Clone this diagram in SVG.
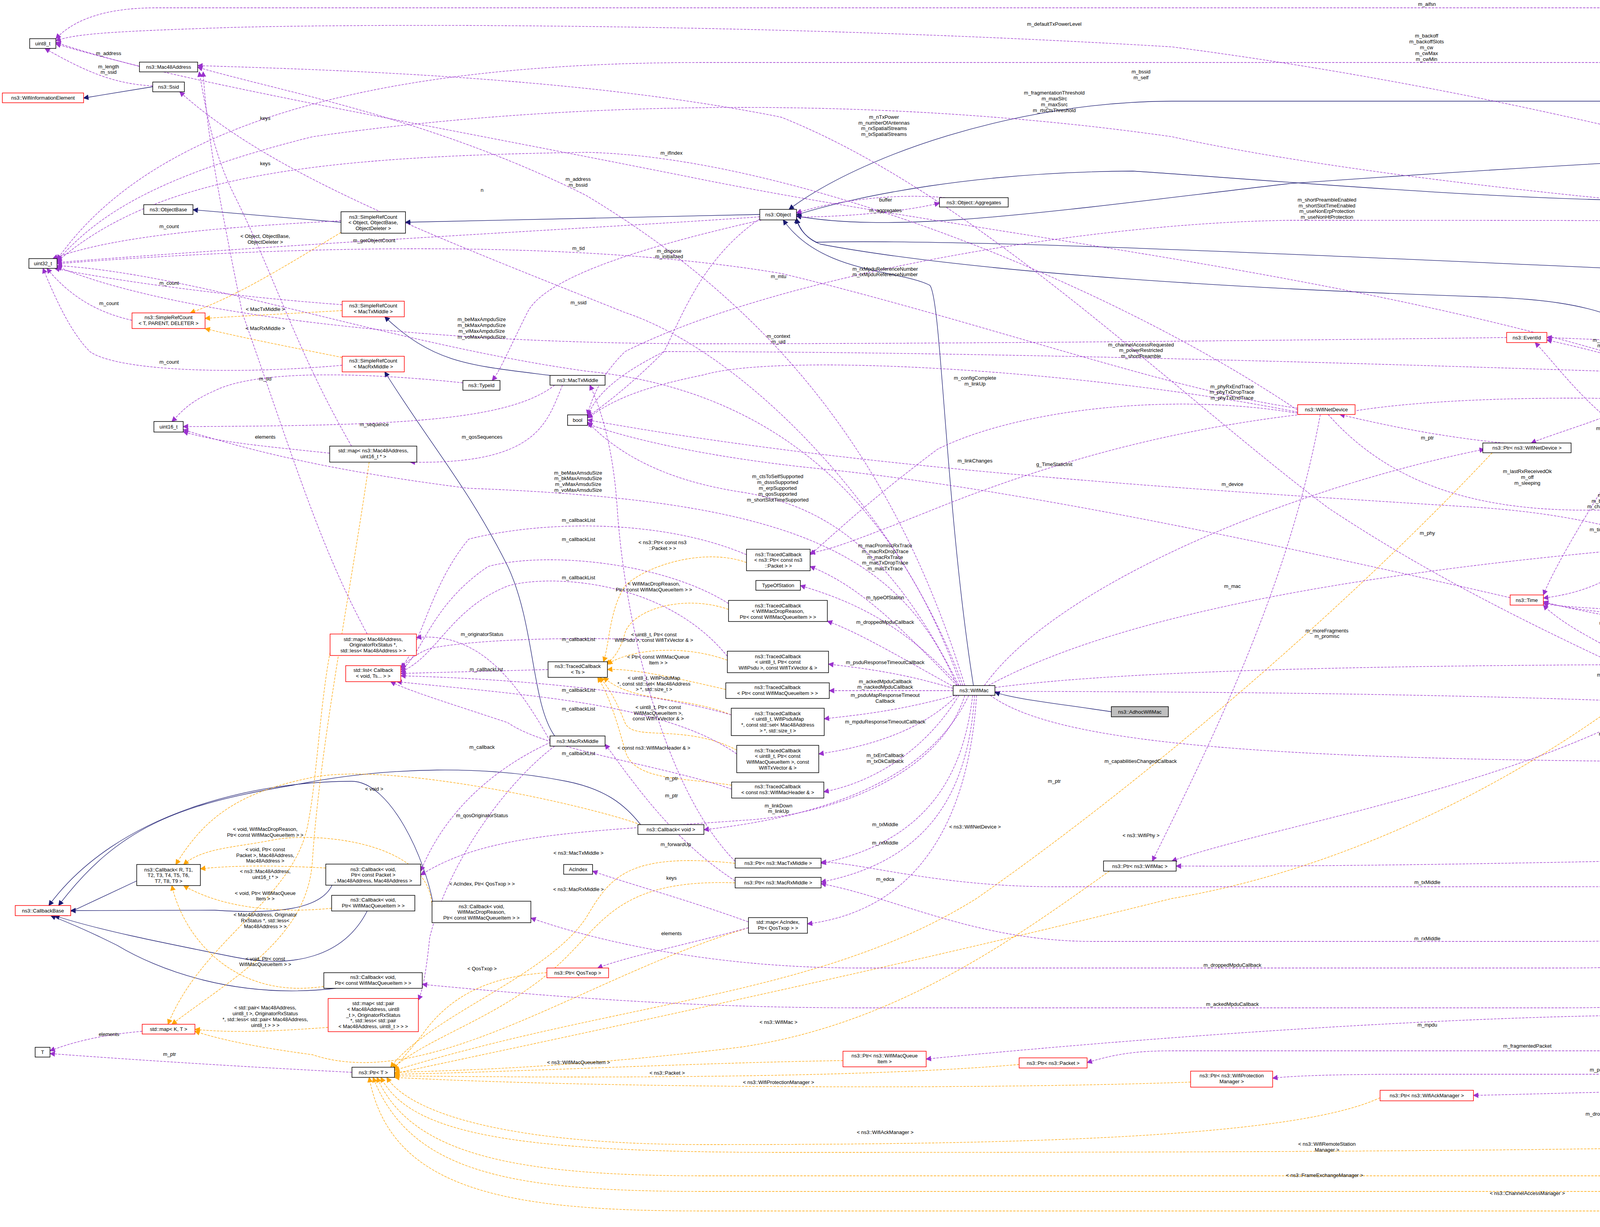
<svg xmlns="http://www.w3.org/2000/svg" width="6967" height="3141" viewBox="0 0 6967 3141">
<style>
.nd rect{fill:#fff;stroke:#000;stroke-width:1.5}
.nd.r rect{stroke:#f00}
.nd.g rect{fill:#bfbfbf}
text{font-family:"Liberation Sans",Arial,sans-serif;font-size:13px;fill:#000;text-anchor:middle}
.e path{fill:none}
.u{stroke:#9a32cd;stroke-width:1.3;stroke-dasharray:6,3;marker-end:url(#mu)}
.t{stroke:#ffa500;stroke-width:1.3;stroke-dasharray:6,3;marker-end:url(#mt)}
.i{stroke:#191970;stroke-width:1.3;marker-end:url(#mi)}
</style>
<defs>
<marker id="mu" viewBox="0 0 10 10" refX="9" refY="5" markerWidth="14" markerHeight="14" markerUnits="userSpaceOnUse" orient="auto"><path d="M0,0 L10,5 L0,10 z" fill="#9a32cd"/></marker>
<marker id="mt" viewBox="0 0 10 10" refX="9" refY="5" markerWidth="14" markerHeight="14" markerUnits="userSpaceOnUse" orient="auto"><path d="M0,0 L10,5 L0,10 z" fill="#ffa500"/></marker>
<marker id="mi" viewBox="0 0 10 10" refX="9" refY="5" markerWidth="14" markerHeight="14" markerUnits="userSpaceOnUse" orient="auto"><path d="M0,0 L10,5 L0,10 z" fill="#191970"/></marker>
</defs>
<rect width="6967" height="3141" fill="#fff"/>
<g id="edges" class="e">
<!-- inheritance -->
<path class="i" d="M391,222 L214,251"/>
<path class="i" d="M873,569 L494,537"/>
<path class="i" d="M1945,549 L1038,569"/>
<path class="i" d="M1408,961 C1200,935 1110,930 985,811"/>
<path class="i" d="M1420,1884 C1360,1800 1370,1600 1300,1450 C1200,1250 1110,1150 985,952"/>
<path class="i" d="M350,2255 L160,2344"/>
<path class="i" d="M850,2266 C820,2330 700,2340 550,2330 L181,2331"/>
<path class="i" d="M940,2332 C880,2450 750,2480 600,2450 C400,2410 250,2380 140,2344"/>
<path class="i" d="M860,2530 C600,2560 400,2480 300,2420 C220,2380 170,2360 130,2344"/>
<path class="i" d="M1110,2320 C1090,2200 1000,2000 900,2000 C650,2000 300,2080 125,2318"/>
<path class="i" d="M1640,2111 C1600,2060 1550,2020 1450,2000 C1250,1960 1000,1960 750,2010 C450,2060 300,2120 150,2318"/>
<path class="i" d="M2492,1755 C2420,1300 2410,760 2380,730 C2300,690 2100,700 2005,563"/>
<path class="i" d="M2845,1822 C2700,1800 2600,1790 2547,1772"/>
<path class="i" d="M6660,1844 C6640,1200 6620,259 6300,259 L3000,259 C2600,260 2200,400 2020,536"/>
<path class="i" d="M5800,1265 C5650,900 5450,600 5160,380 C4900,370 4000,420 3300,470 C2700,540 2300,600 2039,553"/>
<path class="i" d="M5040,551 C4900,510 4700,513 4200,513 C3800,510 3100,450 2900,438 C2500,440 2200,500 2039,550"/>
<path class="i" d="M5080,2166 C4950,1700 4790,1400 4800,1000 C4780,820 4600,700 4200,690 C3500,660 2500,610 2090,620 C2050,600 2040,570 2039,558"/>
<path class="i" d="M4300,942 C4200,820 4100,770 3800,760 C3200,740 2500,700 2100,625 C2060,610 2045,580 2039,560"/>
<!-- template -->
<path class="t" d="M873,595 C700,700 600,760 487,801"/>
<path class="t" d="M876,795 C700,805 600,810 525,815"/>
<path class="t" d="M876,915 C700,880 600,860 525,841"/>
<path class="t" d="M834,2222 C700,2215 600,2215 513,2224"/>
<path class="t" d="M849,2325 C700,2340 560,2320 470,2267"/>
<path class="t" d="M829,2525 C600,2560 470,2400 440,2267"/>
<path class="t" d="M1106,2320 C1100,2150 800,2130 700,2150 C600,2170 520,2170 470,2213"/>
<path class="t" d="M1640,2111 C1500,2060 1000,1950 800,1990 C600,2030 520,2100 450,2213"/>
<path class="t" d="M945,1183 C900,1500 820,1900 800,2200 C790,2400 600,2500 440,2622"/>
<path class="t" d="M845,1670 C820,1800 810,2000 790,2100 C760,2300 520,2400 430,2622"/>
<path class="t" d="M840,2630 C700,2640 600,2645 499,2635"/>
<path class="t" d="M1916,2375 C1500,2500 1100,2800 800,2700 C650,2680 560,2660 499,2640"/>
<path class="t" d="M1911,1440 C1800,1400 1650,1450 1600,1500 C1560,1560 1560,1650 1545,1694"/>
<path class="t" d="M1865,1560 C1750,1520 1620,1560 1600,1620 C1590,1660 1570,1690 1550,1700"/>
<path class="t" d="M1862,1690 C1750,1650 1620,1660 1555,1700"/>
<path class="t" d="M1858,1765 C1750,1740 1620,1710 1555,1714"/>
<path class="t" d="M1872,1830 C1750,1780 1620,1800 1545,1734"/>
<path class="t" d="M1886,1920 C1750,1850 1620,1900 1600,1850 C1580,1800 1560,1760 1535,1734"/>
<path class="t" d="M1873,2010 C1750,1990 1620,2000 1600,1920 C1580,1850 1560,1780 1530,1734"/>
<path class="t" d="M1882,2210 C1600,2180 1560,2250 1500,2350 C1400,2500 1100,2600 1000,2732"/>
<path class="t" d="M1882,2260 C1600,2250 1550,2350 1450,2450 C1300,2600 1100,2650 1005,2735"/>
<path class="t" d="M1400,2490 C1250,2500 1150,2550 1080,2650 C1040,2700 1020,2720 1008,2738"/>
<path class="t" d="M2840,2230 C2600,2400 2300,2620 1900,2680 C1500,2730 1200,2740 1010,2745"/>
<path class="t" d="M3820,1159 C3500,1500 3000,1950 2500,2300 C2100,2550 1600,2560 1010,2740"/>
<path class="t" d="M4680,1277 C4300,1800 3600,2200 3000,2300 C2400,2450 1800,2580 1010,2748"/>
<path class="t" d="M2158,2715 C1800,2720 1300,2745 1010,2750"/>
<path class="t" d="M2609,2725 C2200,2760 1500,2760 1010,2754"/>
<path class="t" d="M3048,2770 C2500,2790 1500,2785 1010,2758"/>
<path class="t" d="M3533,2810 C3300,2920 2500,2930 1800,2930 C1300,2930 1050,2850 990,2758"/>
<path class="t" d="M5480,1298 C5430,1800 5350,2600 5200,2900 C4800,2950 3000,2950 2000,2950 C1300,2950 1050,2900 975,2758"/>
<path class="t" d="M5460,2095 C5380,2600 5200,2980 4500,3010 L1800,3010 C1300,3010 1050,2950 965,2758"/>
<path class="t" d="M6250,1877 C6050,2400 5600,2900 5000,3050 L1800,3050 C1300,3050 1050,3000 955,2758"/>
<path class="t" d="M6870,2782 C6850,3000 6750,3100 6500,3100 L1800,3100 C1300,3100 1000,3050 945,2758"/>
<!-- usage -->
<path class="u" d="M357,170 C280,150 200,130 143,112"/>
<path class="u" d="M391,220 C300,215 230,190 115,124"/>
<path class="u" d="M873,565 C600,580 300,600 135,662"/>
<path class="u" d="M876,780 C600,760 300,720 140,687"/>
<path class="u" d="M338,820 C250,800 180,760 120,687"/>
<path class="u" d="M876,935 C600,960 300,950 230,900 C180,850 140,760 110,687"/>
<path class="u" d="M1185,980 C900,950 650,950 550,1000 C480,1030 460,1060 440,1079"/>
<path class="u" d="M1420,986 C1300,1080 1000,1090 469,1092"/>
<path class="u" d="M1440,986 C1400,1080 1380,1190 1050,1183"/>
<path class="u" d="M844,1160 C650,1140 550,1130 469,1105"/>
<path class="u" d="M900,1142 C760,900 700,700 600,500 C550,400 530,300 510,184"/>
<path class="u" d="M940,1623 C820,1400 760,1200 620,800 C560,500 530,350 520,184"/>
<path class="u" d="M1408,1897 C1300,1700 1200,1620 1066,1632"/>
<path class="u" d="M1420,1910 C1300,2000 1150,2200 1100,2400 C1090,2500 1080,2540 1071,2560"/>
<path class="u" d="M1410,1900 C1300,1950 1150,2050 1077,2230"/>
<path class="u" d="M1403,1714 L1026,1724"/>
<path class="u" d="M1911,1420 C1700,1330 1400,1330 1200,1380 C1100,1500 1080,1650 1026,1710"/>
<path class="u" d="M1865,1545 C1700,1440 1400,1410 1250,1450 C1100,1550 1080,1680 1026,1715"/>
<path class="u" d="M1862,1680 C1700,1480 1400,1470 1300,1500 C1150,1560 1120,1680 1026,1720"/>
<path class="u" d="M1872,1830 C1700,1780 1400,1740 1026,1730"/>
<path class="u" d="M1886,1930 C1700,1800 1350,1780 1016,1745"/>
<path class="u" d="M1873,2020 C1700,1960 1400,1920 1300,1850 C1150,1800 1050,1770 1000,1745"/>
<path class="u" d="M1645,1637 C1400,1630 1200,1640 1100,1660 C1050,1680 1040,1700 1026,1708"/>
<path class="u" d="M364,2640 C250,2650 180,2670 128,2690"/>
<path class="u" d="M901,2745 C600,2730 300,2710 128,2697"/>
<path class="u" d="M1916,2360 C1750,2300 1600,2260 1517,2230"/>
<path class="u" d="M1916,2375 C1750,2420 1600,2450 1530,2478"/>
<path class="u" d="M1882,2205 C1700,2020 1600,1600 1580,1300 C1570,1150 1540,1050 1510,986"/>
<path class="u" d="M1882,2255 C1720,2150 1620,2000 1549,1905"/>
<path class="u" d="M2450,1755 C2300,1600 2200,1500 2074,1450"/>
<path class="u" d="M2455,1755 C2300,1580 2150,1530 2049,1499"/>
<path class="u" d="M2445,1760 C2300,1680 2200,1620 2118,1590"/>
<path class="u" d="M2440,1762 C2300,1720 2200,1710 2121,1700"/>
<path class="u" d="M2440,1768 L2123,1768"/>
<path class="u" d="M2445,1780 C2300,1820 2200,1830 2110,1840"/>
<path class="u" d="M2450,1780 C2350,1880 2200,1915 2096,1930"/>
<path class="u" d="M2455,1780 C2350,1950 2200,2010 2109,2027"/>
<path class="u" d="M2480,1780 C2400,1950 2200,2080 1802,2124"/>
<path class="u" d="M2470,1780 C2400,2000 2100,2090 1900,2100 C1500,2130 1250,2130 1077,2240"/>
<path class="u" d="M2490,1780 C2470,1950 2400,2150 2102,2210"/>
<path class="u" d="M2495,1780 C2480,2000 2400,2200 2102,2258"/>
<path class="u" d="M2500,1780 C2480,2100 2350,2330 2067,2365"/>
<path class="u" d="M2455,1755 C2300,1450 2150,1300 1900,1260 C1700,1230 1580,1160 1504,1080"/>
<path class="u" d="M2450,1755 C2300,1400 2000,1280 1200,1250 C800,1200 600,1140 469,1100"/>
<path class="u" d="M2460,1755 C2300,1300 2000,1000 1500,950 C1000,880 500,700 146,680"/>
<path class="u" d="M2470,1755 C2300,1200 2000,800 1500,500 C1100,300 700,230 506,172"/>
<path class="u" d="M2465,1755 C2300,1300 1900,900 1600,800 C1100,600 700,450 460,235"/>
<path class="u" d="M2520,1755 C2700,1500 3300,1250 3800,1150"/>
<path class="u" d="M2530,1755 C3000,1500 4000,1400 5000,1350 C5300,1330 5380,1310 5400,1290"/>
<path class="u" d="M2547,1760 C3000,1700 4000,1700 5000,1700 C5600,1700 6000,1720 6190,1845"/>
<path class="u" d="M2547,1770 C3500,1770 4500,1790 5000,1850 C5300,1900 5370,1990 5380,2065"/>
<path class="u" d="M2535,1780 C2700,1900 3200,1950 4500,1950 C5500,1950 6500,2300 6800,2770"/>
<path class="u" d="M5001,2180 C4500,2200 3500,2220 3011,2217"/>
<path class="u" d="M5010,2180 C4800,2260 4500,2270 4000,2270 L2700,2270 C2400,2270 2200,2207 2102,2207"/>
<path class="u" d="M5020,2193 C4900,2300 4700,2410 4000,2410 L2800,2410 C2500,2410 2300,2300 2102,2262"/>
<path class="u" d="M5030,2193 C4900,2350 4700,2478 4000,2478 L2200,2478 C1800,2478 1500,2400 1359,2350"/>
<path class="u" d="M5040,2193 C4900,2450 4700,2580 4000,2580 L2200,2580 C1700,2580 1300,2540 1081,2520"/>
<path class="u" d="M5050,2193 C4900,2550 4700,2610 4400,2600 C4000,2590 3200,2630 2371,2711"/>
<path class="u" d="M5060,2193 C4950,2550 4700,2680 4400,2690 L3000,2690 C2900,2690 2850,2700 2783,2720"/>
<path class="u" d="M5070,2193 C5000,2600 4850,2750 4600,2750 L3600,2750 C3400,2750 3300,2755 3258,2760"/>
<path class="u" d="M5080,2193 C5050,2650 4900,2830 4700,2800 C4500,2780 4000,2800 3772,2804"/>
<path class="u" d="M5090,2166 C5000,1800 4850,1400 4710,1277"/>
<path class="u" d="M5100,2166 C5000,1700 4900,1300 4700,1220 C4550,1180 4450,1185 4372,1185"/>
<path class="u" d="M5050,2166 C4800,1950 4500,1850 4300,1750 C4100,1650 4000,1600 3951,1549"/>
<path class="u" d="M5140,2193 C5200,2500 5350,2787 5600,2787 L6700,2787 C6760,2787 6780,2782 6800,2775"/>
<path class="u" d="M5110,2166 C4950,1800 4700,1700 4569,1689"/>
<path class="u" d="M5150,2166 C5300,1800 5600,1950 5900,1950 C6050,1900 6150,1870 6200,1877"/>
<path class="u" d="M5020,2166 C4700,1900 4000,1700 3400,1300 C3000,1000 2500,500 2000,300 C1500,200 900,180 506,168"/>
<path class="u" d="M5070,2166 C4900,1700 4500,1350 3800,1300 C3000,1250 2200,1200 1504,1075"/>
<path class="u" d="M5823,1280 C5700,1260 5650,1240 5588,1225"/>
<path class="u" d="M5990,1291 C6050,1310 6150,1310 6224,1288"/>
<path class="u" d="M6224,1278 L6032,1278"/>
<path class="u" d="M5850,1265 C5700,1170 5400,1160 5200,1180 C5000,1250 4850,1264 4779,1264"/>
<path class="u" d="M5900,1291 C5800,1600 5600,1900 5490,2055"/>
<path class="u" d="M5840,1291 C5600,1400 5000,1600 4500,1600 C4200,1580 4000,1560 3951,1540"/>
<path class="u" d="M5880,1291 C5600,1500 5200,1000 4900,950 C4500,880 4100,870 3960,864"/>
<path class="u" d="M6300,1837 C6200,1600 6050,1400 5930,1291"/>
<path class="u" d="M6620,1857 L6396,1857"/>
<path class="u" d="M6880,2756 C6850,2400 6780,2000 6690,1870"/>
<path class="u" d="M6670,1844 C6620,1400 6500,600 6360,200 C6300,60 6200,20 6000,20 L400,20 C250,20 180,60 143,99"/>
<path class="u" d="M6680,1844 C6650,1300 6600,600 6450,420 C6350,300 6250,160 6000,160 L1800,160 C1000,160 400,300 146,665"/>
<path class="u" d="M6640,1844 C6500,1600 6400,1600 6300,1567 L4500,1567 C4200,1567 4000,1555 3951,1545"/>
<path class="u" d="M5470,1259 C5420,1000 5300,780 5100,577"/>
<path class="u" d="M5050,577 C4950,700 4800,1100 4760,1251"/>
<path class="u" d="M5060,577 C4950,900 4700,1400 4400,1700 C4000,2000 3300,2100 3000,2204"/>
<path class="u" d="M5000,560 C4800,500 4000,250 3000,120 C2000,60 1000,60 600,70 C300,80 200,85 143,104"/>
<path class="u" d="M4991,565 C4500,560 3500,460 3000,350 C2300,250 1500,250 800,350 C400,450 250,550 146,668"/>
<path class="u" d="M4991,570 C4700,565 4000,564 3300,564 C2800,570 2000,700 1600,900 C1550,950 1520,1000 1504,1062"/>
<path class="u" d="M4260,950 C4100,900 4000,880 3960,870"/>
<path class="u" d="M4300,968 C4200,1050 4000,1100 3920,1134"/>
<path class="u" d="M4280,968 C4200,1100 4000,1400 3951,1523"/>
<path class="u" d="M4254,955 C3500,930 2500,900 1700,900 C1600,950 1530,1000 1504,1065"/>
<path class="u" d="M4254,945 C3500,700 2500,600 1800,460 C1000,300 400,200 143,108"/>
<path class="u" d="M4690,1251 C4600,1100 4450,1000 4357,962"/>
<path class="u" d="M3850,1134 C3700,1120 3550,1090 3430,1061"/>
<path class="u" d="M3400,1061 C3700,1400 4200,1300 4597,1264"/>
<path class="u" d="M3380,1061 C3300,1500 3100,1900 2950,2204"/>
<path class="u" d="M3420,1061 C3700,1000 4500,1000 5000,1100 C5300,1150 5400,1200 5420,1259"/>
<path class="u" d="M3322,1050 C2800,700 2000,400 1500,390 C800,400 400,450 146,670"/>
<path class="u" d="M3322,1045 C3000,1000 2500,820 2000,700 C1400,600 600,640 146,675"/>
<path class="u" d="M3322,1055 C2800,950 2000,900 1800,960 C1600,1000 1550,1040 1504,1070"/>
<path class="u" d="M3340,1061 C3000,1000 2600,1050 2400,1150 C2200,1300 2100,1400 2074,1420"/>
<path class="u" d="M3330,1061 C3000,1100 2700,1180 2400,1300 C2200,1380 2120,1410 2074,1415"/>
<path class="u" d="M4280,1172 C4100,1100 4000,950 3930,877"/>
<path class="u" d="M4300,1198 C4260,1350 4200,1500 3951,1531"/>
<path class="u" d="M4420,1663 C4300,1600 4050,1570 3951,1540"/>
<path class="u" d="M3857,864 C3400,870 2500,880 1800,880 C1000,880 400,790 146,682"/>
<path class="u" d="M2039,556 C2150,555 2300,545 2405,520"/>
<path class="u" d="M2420,506 C2300,495 2150,510 2039,545"/>
<path class="u" d="M1945,555 C1600,580 800,620 146,672"/>
<path class="u" d="M1950,563 C1700,620 1400,700 1350,800 C1300,900 1280,950 1260,974"/>
<path class="u" d="M1945,560 C1800,660 1750,800 1700,900 C1600,1000 1540,1040 1504,1068"/>
<path class="u" d="M3866,1530 C3300,1400 2600,1250 2100,1200 C1800,1170 1600,1120 1504,1085"/>
</g>
<g id="labels">
<text x="278" y="141">m_address</text>
<text x="278" y="175">m_length</text><text x="278" y="189">m_ssid</text>
<text x="679" y="307">keys</text>
<text x="679" y="423">keys</text>
<text x="1719" y="396">m_ifIndex</text>
<text x="1480" y="463">m_address</text><text x="1480" y="478">m_bssid</text>
<text x="1234" y="491">n</text>
<text x="433" y="584">m_count</text>
<text x="679" y="609">&lt; Object, ObjectBase,</text><text x="679" y="624">ObjectDeleter &gt;</text>
<text x="958" y="620">m_getObjectCount</text>
<text x="1481" y="640">m_tid</text>
<text x="1713" y="647">m_dispose</text><text x="1713" y="661">m_initialized</text>
<text x="433" y="729">m_count</text>
<text x="279" y="781">m_count</text>
<text x="679" y="796">&lt; MacTxMiddle &gt;</text>
<text x="679" y="845">&lt; MacRxMiddle &gt;</text>
<text x="1481" y="779">m_ssid</text>
<text x="1233" y="822">m_beMaxAmpduSize</text><text x="1233" y="837">m_bkMaxAmpduSize</text><text x="1233" y="852">m_viMaxAmpduSize</text><text x="1233" y="867">m_voMaxAmpduSize</text>
<text x="433" y="931">m_count</text>
<text x="679" y="974">m_tid</text>
<text x="958" y="1091">m_sequence</text>
<text x="679" y="1123">elements</text>
<text x="1234" y="1123">m_qosSequences</text>
<text x="1480" y="1215">m_beMaxAmsduSize</text><text x="1480" y="1229">m_bkMaxAmsduSize</text><text x="1480" y="1244">m_viMaxAmsduSize</text><text x="1480" y="1259">m_voMaxAmsduSize</text>
<text x="1481" y="1336">m_callbackList</text>
<text x="1481" y="1385">m_callbackList</text>
<text x="1696" y="1393">&lt; ns3::Ptr&lt; const ns3</text><text x="1696" y="1408">::Packet &gt; &gt;</text>
<text x="1481" y="1483">m_callbackList</text>
<text x="1674" y="1499">&lt; WifiMacDropReason,</text><text x="1674" y="1514">Ptr&lt; const WifiMacQueueItem &gt; &gt;</text>
<text x="1234" y="1628">m_originatorStatus</text>
<text x="1481" y="1641">m_callbackList</text>
<text x="1674" y="1629">&lt; uint8_t, Ptr&lt; const</text><text x="1674" y="1643">WifiPsdu &gt;, const WifiTxVector &amp; &gt;</text>
<text x="1685" y="1686">&lt; Ptr&lt; const WifiMacQueue</text><text x="1685" y="1701">Item &gt; &gt;</text>
<text x="1245" y="1718">m_callbackList</text>
<text x="1674" y="1740">&lt; uint8_t, WifiPsduMap</text><text x="1674" y="1755">*, const std::set&lt; Mac48Address</text><text x="1674" y="1769">&gt; *, std::size_t &gt;</text>
<text x="1481" y="1771">m_callbackList</text>
<text x="1481" y="1819">m_callbackList</text>
<text x="1685" y="1815">&lt; uint8_t, Ptr&lt; const</text><text x="1685" y="1830">WifiMacQueueItem &gt;,</text><text x="1685" y="1844">const WifiTxVector &amp; &gt;</text>
<text x="1234" y="1917">m_callback</text>
<text x="1481" y="1933">m_callbackList</text>
<text x="1674" y="1919">&lt; const ns3::WifiMacHeader &amp; &gt;</text>
<text x="1719" y="1997">m_ptr</text>
<text x="1719" y="2041">m_ptr</text>
<text x="958" y="2024">&lt; void &gt;</text>
<text x="1234" y="2092">m_qosOriginatorStatus</text>
<text x="679" y="2127">&lt; void, WifiMacDropReason,</text><text x="679" y="2142">Ptr&lt; const WifiMacQueueItem &gt; &gt;</text>
<text x="679" y="2179">&lt; void, Ptr&lt; const</text><text x="679" y="2194">Packet &gt;, Mac48Address,</text><text x="679" y="2208">Mac48Address &gt;</text>
<text x="679" y="2235">&lt; ns3::Mac48Address,</text><text x="679" y="2250">uint16_t * &gt;</text>
<text x="679" y="2291">&lt; void, Ptr&lt; WifiMacQueue</text><text x="679" y="2305">Item &gt; &gt;</text>
<text x="679" y="2346">&lt; Mac48Address, Originator</text><text x="679" y="2361">RxStatus *, std::less&lt;</text><text x="679" y="2376">Mac48Address &gt; &gt;</text>
<text x="679" y="2459">&lt; void, Ptr&lt; const</text><text x="679" y="2473">WifiMacQueueItem &gt; &gt;</text>
<text x="679" y="2584">&lt; std::pair&lt; Mac48Address,</text><text x="679" y="2599">uint8_t &gt;, OriginatorRxStatus</text><text x="679" y="2614">*, std::less&lt; std::pair&lt; Mac48Address,</text><text x="679" y="2629">uint8_t &gt; &gt; &gt;</text>
<text x="279" y="2652">elements</text>
<text x="434" y="2703">m_ptr</text>
<text x="1234" y="2267">&lt; AcIndex, Ptr&lt; QosTxop &gt; &gt;</text>
<text x="1481" y="2188">&lt; ns3::MacTxMiddle &gt;</text>
<text x="1481" y="2281">&lt; ns3::MacRxMiddle &gt;</text>
<text x="1719" y="2252">keys</text>
<text x="1719" y="2394">elements</text>
<text x="1234" y="2484">&lt; QosTxop &gt;</text>
<text x="1730" y="2166">m_forwardUp</text>
<text x="1481" y="2724">&lt; ns3::WifiMacQueueItem &gt;</text>
<text x="1708" y="2751">&lt; ns3::Packet &gt;</text>
<text x="2699" y="66">m_defaultTxPowerLevel</text>
<text x="2921" y="188">m_bssid</text><text x="2921" y="203">m_self</text>
<text x="2699" y="242">m_fragmentationThreshold</text><text x="2699" y="257">m_maxSlrc</text><text x="2699" y="272">m_maxSsrc</text><text x="2699" y="287">m_rtsCtsThreshold</text>
<text x="2263" y="304">m_nTxPower</text><text x="2263" y="319">m_numberOfAntennas</text><text x="2263" y="333">m_rxSpatialStreams</text><text x="2263" y="348">m_txSpatialStreams</text>
<text x="2267" y="516">buffer</text>
<text x="2267" y="543">m_aggregates</text>
<text x="3397" y="516">m_shortPreambleEnabled</text><text x="3397" y="531">m_shortSlotTimeEnabled</text><text x="3397" y="545">m_useNonErpProtection</text><text x="3397" y="560">m_useNonHtProtection</text>
<text x="2266" y="693">m_rxMpduReferenceNumber</text><text x="2266" y="707">m_txMpduReferenceNumber</text>
<text x="1993" y="712">m_mtu</text>
<text x="1993" y="865">m_context</text><text x="1993" y="879">m_uid</text>
<text x="2921" y="887">m_channelAccessRequested</text><text x="2921" y="901">m_powerRestricted</text><text x="2921" y="916">m_shortPreamble</text>
<text x="2496" y="972">m_configComplete</text><text x="2496" y="987">m_linkUp</text>
<text x="3154" y="994">m_phyRxEndTrace</text><text x="3154" y="1008">m_phyTxDropTrace</text><text x="3154" y="1023">m_phyTxEndTrace</text>
<text x="2496" y="1184">m_linkChanges</text>
<text x="2699" y="1193">g_TimeStaticInit</text>
<text x="1991" y="1224">m_ctsToSelfSupported</text><text x="1991" y="1239">m_dsssSupported</text><text x="1991" y="1254">m_erpSupported</text><text x="1991" y="1269">m_qosSupported</text><text x="1991" y="1284">m_shortSlotTimeSupported</text>
<text x="3155" y="1244">m_device</text>
<text x="2266" y="1401">m_macPromiscRxTrace</text><text x="2266" y="1416">m_macRxDropTrace</text><text x="2266" y="1431">m_macRxTrace</text><text x="2266" y="1445">m_macTxDropTrace</text><text x="2266" y="1460">m_macTxTrace</text>
<text x="3155" y="1505">m_mac</text>
<text x="2266" y="1534">m_typeOfStation</text>
<text x="2266" y="1597">m_droppedMpduCallback</text>
<text x="3397" y="1619">m_moreFragments</text><text x="3397" y="1633">m_promisc</text>
<text x="2266" y="1700">m_psduResponseTimeoutCallback</text>
<text x="2266" y="1749">m_ackedMpduCallback</text><text x="2266" y="1763">m_nackedMpduCallback</text>
<text x="2266" y="1784">m_psduMapResponseTimeout</text><text x="2266" y="1799">Callback</text>
<text x="2266" y="1852">m_mpduResponseTimeoutCallback</text>
<text x="2266" y="1938">m_txErrCallback</text><text x="2266" y="1953">m_txOkCallback</text>
<text x="2920" y="1953">m_capabilitiesChangedCallback</text>
<text x="2699" y="2004">m_ptr</text>
<text x="1993" y="2067">m_linkDown</text><text x="1993" y="2081">m_linkUp</text>
<text x="2266" y="2115">m_txMiddle</text>
<text x="2496" y="2121">&lt; ns3::WifiNetDevice &gt;</text>
<text x="2266" y="2162">m_rxMiddle</text>
<text x="2921" y="2143">&lt; ns3::WifiPhy &gt;</text>
<text x="2266" y="2255">m_edca</text>
<text x="3155" y="2475">m_droppedMpduCallback</text>
<text x="3155" y="2575">m_ackedMpduCallback</text>
<text x="1993" y="2621">&lt; ns3::WifiMac &gt;</text>
<text x="1993" y="2775">&lt; ns3::WifiProtectionManager &gt;</text>
<text x="2266" y="2903">&lt; ns3::WifiAckManager &gt;</text>
<text x="3397" y="2933">&lt; ns3::WifiRemoteStation</text><text x="3397" y="2948">Manager &gt;</text>
<text x="3391" y="3013">&lt; ns3::FrameExchangeManager &gt;</text>
<text x="3653" y="15">m_aifsn</text>
<text x="3652" y="96">m_backoff</text><text x="3652" y="111">m_backoffSlots</text><text x="3652" y="126">m_cw</text><text x="3652" y="141">m_cwMax</text><text x="3652" y="156">m_cwMin</text>
<text x="4886" y="667">m_wifiPhy</text>
<text x="4133" y="875">m_endPhyRxEvent</text><text x="4133" y="889">m_endTxEvent</text>
<text x="4485" y="881">m_navResetEvent</text>
<text x="4887" y="883">m_accessTimeout</text>
<text x="4485" y="973">m_ptr</text>
<text x="4133" y="1001">m_device</text>
<text x="4485" y="1047">m_stationManager</text>
<text x="3654" y="1125">m_ptr</text>
<text x="4133" y="1101">m_timeoutEvent</text>
<text x="4133" y="1191">m_phy</text>
<text x="4690" y="1185">m_txTimer</text>
<text x="3910" y="1211">m_lastRxReceivedOk</text><text x="3910" y="1226">m_off</text><text x="3910" y="1241">m_sleeping</text>
<text x="4131" y="1272">m_ackTxTime</text><text x="4131" y="1287">m_blockAckTxTime</text><text x="4131" y="1301">m_channelSwitchDelay</text><text x="4131" y="1316">m_pifs</text><text x="4131" y="1331">m_sifs</text><text x="4131" y="1345">m_slot</text><text x="4131" y="1360">m_timeLastPreamble</text><text x="4131" y="1375">Detected</text>
<text x="3654" y="1369">m_phy</text>
<text x="4885" y="1366">m_eifsNoDifs</text><text x="4885" y="1381">m_lastAckTimeoutEnd</text><text x="4885" y="1396">m_lastBusyDuration</text><text x="4885" y="1410">m_lastBusyStart</text><text x="4885" y="1425">m_lastCtsTimeoutEnd</text><text x="4885" y="1440">m_lastNavDuration</text><text x="4885" y="1454">m_lastNavStart</text><text x="4885" y="1469">m_lastRxDuration</text><text x="4885" y="1484">m_lastRxStart</text><text x="4885" y="1498">m_lastSwitchingDuration</text><text x="4885" y="1513">...</text>
<text x="4133" y="1487">m_end</text>
<text x="4133" y="1599">m_txDuration</text>
<text x="4142" y="1732">m_stationManager</text>
<text x="4690" y="1779">m_txParams</text>
<text x="4133" y="1807">m_wifiMac</text>
<text x="4487" y="1813">m_channelAccessManager</text>
<text x="4485" y="1856">m_navEnd</text>
<text x="4887" y="1868">m_txop</text>
<text x="4133" y="1883">m_feManager</text>
<text x="4487" y="2021">m_txMiddle</text>
<text x="4887" y="2041">m_phy</text>
<text x="4133" y="2200">m_mac</text>
<text x="3654" y="2263">m_txMiddle</text>
<text x="3654" y="2407">m_rxMiddle</text>
<text x="4887" y="2595">m_mac</text>
<text x="3654" y="2628">m_mpdu</text>
<text x="3910" y="2682">m_fragmentedPacket</text>
<text x="4133" y="2743">m_protectionManager</text>
<text x="4307" y="2795">m_ackManager</text>
<text x="4133" y="2856">m_droppedMpduCallback</text>
<text x="3910" y="3059">&lt; ns3::ChannelAccessManager &gt;</text>
<text x="4307" y="3107">&lt; ns3::Txop &gt;</text>
<text x="5303" y="791">m_ptr</text>
<text x="5303" y="1189">m_phy</text>
<text x="5712" y="1236">m_txops</text>
<text x="6108" y="1275">m_cam</text>
<text x="6108" y="1296">m_phyListener</text>
<text x="6108" y="1496">m_ptr</text>
<text x="5712" y="1545">m_feManager</text>
<text x="5303" y="1599">m_backoffStart</text><text x="5303" y="1613">m_txopLimit</text>
<text x="6510" y="1853">m_channelAccessManager</text>
<text x="5712" y="2043">m_channelAccessManager</text>
<text x="5303" y="2101">m_ptr</text>
<text x="6754" y="2148">m_ptr</text>
<text x="6108" y="2791">m_dcf</text>
</g>
<g id="n_uint8" class="nd"><rect x="76" y="99" width="67" height="25"/><text x="109.5" y="116">uint8_t</text></g>
<g id="n_mac48" class="nd"><rect x="357" y="159" width="149" height="25"/><text x="431.5" y="176">ns3::Mac48Address</text></g>
<g id="n_ssid" class="nd"><rect x="391" y="210" width="81" height="25"/><text x="431.5" y="227">ns3::Ssid</text></g>
<g id="n_wie" class="nd r"><rect x="6" y="238" width="208" height="25"/><text x="110" y="255">ns3::WifiInformationElement</text></g>
<g id="n_objbase" class="nd"><rect x="368" y="524" width="126" height="25"/><text x="431" y="541">ns3::ObjectBase</text></g>
<g id="n_srcobj" class="nd"><rect x="873" y="542" width="165" height="55"/><text x="955.5" y="560">ns3::SimpleRefCount</text><text x="955.5" y="574">&lt; Object, ObjectBase,</text><text x="955.5" y="589">ObjectDeleter &gt;</text></g>
<g id="n_uint32" class="nd"><rect x="74" y="662" width="72" height="25"/><text x="110" y="679">uint32_t</text></g>
<g id="n_srcT" class="nd r"><rect x="338" y="801" width="187" height="40"/><text x="431.5" y="817">ns3::SimpleRefCount</text><text x="431.5" y="832">&lt; T, PARENT, DELETER &gt;</text></g>
<g id="n_srcTx" class="nd r"><rect x="876" y="771" width="159" height="40"/><text x="955.5" y="787">ns3::SimpleRefCount</text><text x="955.5" y="802">&lt; MacTxMiddle &gt;</text></g>
<g id="n_srcRx" class="nd r"><rect x="876" y="912" width="159" height="40"/><text x="955.5" y="928">ns3::SimpleRefCount</text><text x="955.5" y="943">&lt; MacRxMiddle &gt;</text></g>
<g id="n_typeid" class="nd"><rect x="1185" y="974" width="95" height="25"/><text x="1232.5" y="991">ns3::TypeId</text></g>
<g id="n_mactx" class="nd"><rect x="1408" y="961" width="141" height="25"/><text x="1478.5" y="978">ns3::MacTxMiddle</text></g>
<g id="n_uint16" class="nd"><rect x="394" y="1079" width="75" height="27"/><text x="431.5" y="1097">uint16_t</text></g>
<g id="n_bool" class="nd"><rect x="1453" y="1062" width="51" height="27"/><text x="1478.5" y="1080">bool</text></g>
<g id="n_mapseq" class="nd"><rect x="844" y="1142" width="223" height="41"/><text x="955.5" y="1158">std::map&lt; ns3::Mac48Address,</text><text x="955.5" y="1173">uint16_t * &gt;</text></g>
<g id="n_maporig" class="nd r"><rect x="845" y="1623" width="221" height="55"/><text x="955.5" y="1641">std::map&lt; Mac48Address,</text><text x="955.5" y="1655">OriginatorRxStatus *,</text><text x="955.5" y="1670">std::less&lt; Mac48Address &gt; &gt;</text></g>
<g id="n_listcb" class="nd r"><rect x="885" y="1704" width="141" height="41"/><text x="955.5" y="1720">std::list&lt; Callback</text><text x="955.5" y="1735">&lt; void, Ts... &gt; &gt;</text></g>
<g id="n_tcts" class="nd"><rect x="1403" y="1694" width="152" height="40"/><text x="1479" y="1710">ns3::TracedCallback</text><text x="1479" y="1725">&lt; Ts &gt;</text></g>
<g id="n_macrx" class="nd"><rect x="1408" y="1884" width="141" height="26"/><text x="1478.5" y="1902">ns3::MacRxMiddle</text></g>
<g id="n_cbbase" class="nd r"><rect x="39" y="2318" width="142" height="26"/><text x="110" y="2336">ns3::CallbackBase</text></g>
<g id="n_cbR" class="nd"><rect x="350" y="2213" width="163" height="54"/><text x="431.5" y="2231">ns3::Callback&lt; R, T1,</text><text x="431.5" y="2245">T2, T3, T4, T5, T6,</text><text x="431.5" y="2260">T7, T8, T9 &gt;</text></g>
<g id="n_cbpkt" class="nd"><rect x="834" y="2212" width="243" height="54"/><text x="955.5" y="2230">ns3::Callback&lt; void,</text><text x="955.5" y="2244">Ptr&lt; const Packet &gt;</text><text x="955.5" y="2259">, Mac48Address, Mac48Address &gt;</text></g>
<g id="n_cbitem" class="nd"><rect x="849" y="2292" width="213" height="40"/><text x="955.5" y="2308">ns3::Callback&lt; void,</text><text x="955.5" y="2323">Ptr&lt; WifiMacQueueItem &gt; &gt;</text></g>
<g id="n_cbdrop" class="nd"><rect x="1106" y="2307" width="253" height="55"/><text x="1232.5" y="2325">ns3::Callback&lt; void,</text><text x="1232.5" y="2339">WifiMacDropReason,</text><text x="1232.5" y="2354">Ptr&lt; const WifiMacQueueItem &gt; &gt;</text></g>
<g id="n_cbcitem" class="nd"><rect x="829" y="2490" width="252" height="40"/><text x="955" y="2506">ns3::Callback&lt; void,</text><text x="955" y="2521">Ptr&lt; const WifiMacQueueItem &gt; &gt;</text></g>
<g id="n_mappair" class="nd r"><rect x="840" y="2556" width="231" height="85"/><text x="955.5" y="2573">std::map&lt; std::pair</text><text x="955.5" y="2588">&lt; Mac48Address, uint8</text><text x="955.5" y="2603">_t &gt;, OriginatorRxStatus</text><text x="955.5" y="2617">*, std::less&lt; std::pair</text><text x="955.5" y="2632">&lt; Mac48Address, uint8_t &gt; &gt; &gt;</text></g>
<g id="n_mapkt" class="nd r"><rect x="364" y="2622" width="135" height="25"/><text x="431.5" y="2639">std::map&lt; K, T &gt;</text></g>
<g id="n_T" class="nd"><rect x="90" y="2681" width="38" height="25"/><text x="109" y="2698">T</text></g>
<g id="n_ptrT" class="nd"><rect x="901" y="2732" width="109" height="26"/><text x="955.5" y="2750">ns3::Ptr&lt; T &gt;</text></g>
<g id="n_acindex" class="nd"><rect x="1443" y="2213" width="74" height="25"/><text x="1480" y="2230">AcIndex</text></g>
<g id="n_ptrqos" class="nd r"><rect x="1400" y="2478" width="158" height="25"/><text x="1479" y="2495">ns3::Ptr&lt; QosTxop &gt;</text></g>
<g id="n_cbvoid" class="nd"><rect x="1633" y="2111" width="169" height="25"/><text x="1717.5" y="2128">ns3::Callback&lt; void &gt;</text></g>
<g id="n_object" class="nd"><rect x="1945" y="536" width="94" height="27"/><text x="1992" y="554">ns3::Object</text></g>
<g id="n_aggr" class="nd"><rect x="2405" y="506" width="176" height="24"/><text x="2493" y="523">ns3::Object::Aggregates</text></g>
<g id="n_netdev" class="nd r"><rect x="3322" y="1036" width="147" height="25"/><text x="3395.5" y="1053">ns3::WifiNetDevice</text></g>
<g id="n_tcpkt" class="nd"><rect x="1911" y="1406" width="163" height="55"/><text x="1992.5" y="1424">ns3::TracedCallback</text><text x="1992.5" y="1438">&lt; ns3::Ptr&lt; const ns3</text><text x="1992.5" y="1453">::Packet &gt; &gt;</text></g>
<g id="n_typesta" class="nd"><rect x="1935" y="1486" width="114" height="25"/><text x="1992" y="1503">TypeOfStation</text></g>
<g id="n_tcdrop" class="nd"><rect x="1865" y="1537" width="253" height="54"/><text x="1991.5" y="1555">ns3::TracedCallback</text><text x="1991.5" y="1569">&lt; WifiMacDropReason,</text><text x="1991.5" y="1584">Ptr&lt; const WifiMacQueueItem &gt; &gt;</text></g>
<g id="n_tcpsdu" class="nd"><rect x="1862" y="1667" width="259" height="55"/><text x="1991.5" y="1685">ns3::TracedCallback</text><text x="1991.5" y="1699">&lt; uint8_t, Ptr&lt; const</text><text x="1991.5" y="1714">WifiPsdu &gt;, const WifiTxVector &amp; &gt;</text></g>
<g id="n_tccitem" class="nd"><rect x="1858" y="1748" width="265" height="40"/><text x="1990.5" y="1764">ns3::TracedCallback</text><text x="1990.5" y="1779">&lt; Ptr&lt; const WifiMacQueueItem &gt; &gt;</text></g>
<g id="n_tcpsdumap" class="nd"><rect x="1872" y="1813" width="238" height="70"/><text x="1991" y="1831">ns3::TracedCallback</text><text x="1991" y="1845">&lt; uint8_t, WifiPsduMap</text><text x="1991" y="1860">*, const std::set&lt; Mac48Address</text><text x="1991" y="1875">&gt; *, std::size_t &gt;</text></g>
<g id="n_tcitemtx" class="nd"><rect x="1886" y="1908" width="210" height="70"/><text x="1991" y="1926">ns3::TracedCallback</text><text x="1991" y="1940">&lt; uint8_t, Ptr&lt; const</text><text x="1991" y="1955">WifiMacQueueItem &gt;, const</text><text x="1991" y="1970">WifiTxVector &amp; &gt;</text></g>
<g id="n_tchdr" class="nd"><rect x="1873" y="2002" width="236" height="41"/><text x="1991" y="2018">ns3::TracedCallback</text><text x="1991" y="2033">&lt; const ns3::WifiMacHeader &amp; &gt;</text></g>
<g id="n_wifimac" class="nd"><rect x="2440" y="1755" width="107" height="25"/><text x="2493.5" y="1772">ns3::WifiMac</text></g>
<g id="n_adhoc" class="nd g"><rect x="2845" y="1809" width="146" height="26"/><text x="2918" y="1827">ns3::AdhocWifiMac</text></g>
<g id="n_ptrtx" class="nd"><rect x="1882" y="2197" width="220" height="25"/><text x="1992" y="2214">ns3::Ptr&lt; ns3::MacTxMiddle &gt;</text></g>
<g id="n_ptrrx" class="nd"><rect x="1882" y="2246" width="220" height="27"/><text x="1992" y="2264">ns3::Ptr&lt; ns3::MacRxMiddle &gt;</text></g>
<g id="n_mapac" class="nd"><rect x="1916" y="2349" width="151" height="40"/><text x="1991.5" y="2365">std::map&lt; AcIndex,</text><text x="1991.5" y="2380">Ptr&lt; QosTxop &gt; &gt;</text></g>
<g id="n_ptrmac" class="nd"><rect x="2825" y="2204" width="186" height="26"/><text x="2918" y="2222">ns3::Ptr&lt; ns3::WifiMac &gt;</text></g>
<g id="n_ptritem" class="nd r"><rect x="2158" y="2691" width="213" height="40"/><text x="2264.5" y="2707">ns3::Ptr&lt; ns3::WifiMacQueue</text><text x="2264.5" y="2722">Item &gt;</text></g>
<g id="n_ptrpkt" class="nd r"><rect x="2609" y="2708" width="174" height="26"/><text x="2696" y="2726">ns3::Ptr&lt; ns3::Packet &gt;</text></g>
<g id="n_ptrprot" class="nd r"><rect x="3048" y="2742" width="210" height="41"/><text x="3153" y="2758">ns3::Ptr&lt; ns3::WifiProtection</text><text x="3153" y="2773">Manager &gt;</text></g>
<g id="n_wrsm" class="nd r"><rect x="4991" y="551" width="233" height="26"/><text x="5107.5" y="569">ns3::WifiRemoteStationManager</text></g>
<g id="n_eventid" class="nd r"><rect x="3857" y="851" width="103" height="26"/><text x="3908.5" y="869">ns3::EventId</text></g>
<g id="n_wifiphy" class="nd r"><rect x="4254" y="942" width="103" height="26"/><text x="4305.5" y="960">ns3::WifiPhy</text></g>
<g id="n_ptrnet" class="nd"><rect x="3796" y="1134" width="226" height="25"/><text x="3909" y="1151">ns3::Ptr&lt; ns3::WifiNetDevice &gt;</text></g>
<g id="n_txtimer" class="nd r"><rect x="4239" y="1172" width="133" height="26"/><text x="4305.5" y="1190">ns3::WifiTxTimer</text></g>
<g id="n_ptrphy" class="nd"><rect x="4597" y="1251" width="182" height="26"/><text x="4688" y="1269">ns3::Ptr&lt; ns3::WifiPhy &gt;</text></g>
<g id="n_time" class="nd r"><rect x="3866" y="1523" width="85" height="26"/><text x="3908.5" y="1541">ns3::Time</text></g>
<g id="n_txparams" class="nd r"><rect x="4398" y="1663" width="171" height="26"/><text x="4483.5" y="1681">ns3::WifiTxParameters</text></g>
<g id="n_fem" class="nd"><rect x="5001" y="2166" width="214" height="27"/><text x="5108" y="2184">ns3::FrameExchangeManager</text></g>
<g id="n_ptrack" class="nd r"><rect x="3533" y="2791" width="239" height="27"/><text x="3652.5" y="2809">ns3::Ptr&lt; ns3::WifiAckManager &gt;</text></g>
<g id="n_vectxop" class="nd r"><rect x="5386" y="1207" width="202" height="25"/><text x="5487" y="1224">std::vector&lt; Ptr&lt; Txop &gt; &gt;</text></g>
<g id="n_ptrwrsm" class="nd"><rect x="5390" y="1259" width="195" height="39"/><text x="5487.5" y="1275">ns3::Ptr&lt; ns3::WifiRemote</text><text x="5487.5" y="1290">StationManager &gt;</text></g>
<g id="n_cam" class="nd"><rect x="5823" y="1265" width="209" height="26"/><text x="5927.5" y="1283">ns3::ChannelAccessManager</text></g>
<g id="n_phylis" class="nd r"><rect x="6224" y="1265" width="129" height="26"/><text x="6288.5" y="1283">ns3::PhyListener</text></g>
<g id="n_ptrcam" class="nd"><rect x="6180" y="1837" width="216" height="40"/><text x="6288" y="1853">ns3::Ptr&lt; ns3::ChannelAccess</text><text x="6288" y="1868">Manager &gt;</text></g>
<g id="n_txop" class="nd r"><rect x="6620" y="1844" width="87" height="26"/><text x="6663.5" y="1862">ns3::Txop</text></g>
<g id="n_ptrfem" class="nd"><rect x="5377" y="2055" width="221" height="40"/><text x="5487.5" y="2071">ns3::Ptr&lt; ns3::FrameExchange</text><text x="5487.5" y="2086">Manager &gt;</text></g>
<g id="n_ptrtxop" class="nd"><rect x="6798" y="2756" width="163" height="26"/><text x="6879.5" y="2774">ns3::Ptr&lt; ns3::Txop &gt;</text></g>
</svg>
